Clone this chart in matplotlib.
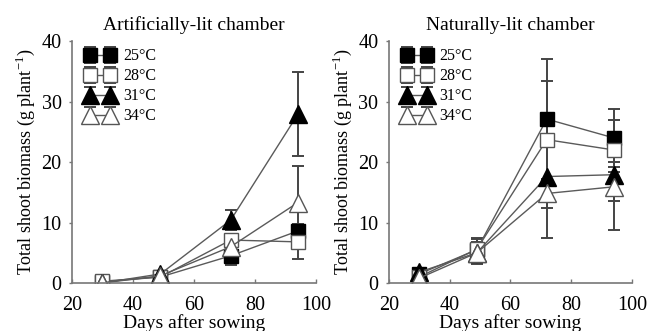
import matplotlib
matplotlib.use("Agg")
import matplotlib.pyplot as plt

plt.rcParams["font.family"] = ["Liberation Serif", "DejaVu Serif"]
plt.rcParams["mathtext.fontset"] = "custom"
plt.rcParams["mathtext.rm"] = "Liberation Serif"

days = [30, 49, 72, 94]
temps = ["25°C", "28°C", "31°C", "34°C"]

# Artificially-lit chamber
art_mean = {
    "25°C": [0.2, 1.0, 4.5, 8.6],
    "28°C": [0.3, 1.0, 7.1, 6.8],
    "31°C": [0.0, 1.5, 10.4, 27.9],
    "34°C": [0.0, 1.2, 6.0, 13.3],
}
art_err = {
    "25°C": [0.2, 0.4, 1.6, 1.2],
    "28°C": [0.2, 0.4, 1.0, 2.8],
    "31°C": [0.2, 0.5, 1.6, 6.9],
    "34°C": [0.2, 0.4, 1.0, 6.1],
}

# Naturally-lit chamber
nat_mean = {
    "25°C": [1.5, 5.5, 27.1, 24.0],
    "28°C": [1.0, 5.6, 23.7, 22.0],
    "31°C": [1.8, 5.0, 17.6, 17.9],
    "34°C": [0.8, 5.0, 14.8, 15.9],
}
nat_err = {
    "25°C": [0.4, 2.0, 9.9, 4.8],
    "28°C": [0.4, 1.6, 9.7, 2.0],
    "31°C": [0.5, 1.8, 10.1, 9.1],
    "34°C": [0.4, 1.6, 2.4, 2.4],
}

styles = {
    "25°C": dict(marker="s", mfc="black", mec="black", ms=9.5),
    "28°C": dict(marker="s", mfc="white", mec="#555555", ms=9.5),
    "31°C": dict(marker="^", mfc="black", mec="black", ms=13),
    "34°C": dict(marker="^", mfc="white", mec="#555555", ms=13),
}

fig = plt.figure(figsize=(6.48, 3.31), dpi=100)
ax1 = fig.add_axes([0.111, 0.145, 0.377, 0.731])
ax2 = fig.add_axes([0.600, 0.145, 0.375, 0.731])

panels = [
    (ax1, art_mean, art_err, "Artificially-lit chamber"),
    (ax2, nat_mean, nat_err, "Naturally-lit chamber"),
]

for ax, means, errs, title in panels:
    for t in temps:
        ax.errorbar(days, means[t], yerr=errs[t], color="#5a5a5a", lw=1.0,
                    ecolor="#444444", elinewidth=1.4, capsize=4, capthick=1.4,
                    label=t, **styles[t])
    ax.set_xlim(20, 100)
    ax.set_ylim(0, 40)
    ax.set_xticks([20, 40, 60, 80, 100])
    ax.set_yticks([0, 10, 20, 30, 40])
    ax.spines["top"].set_visible(False)
    ax.spines["right"].set_visible(False)
    for s in ("left", "bottom"):
        ax.spines[s].set_color("#777777")
        ax.spines[s].set_linewidth(1.2)
    ax.tick_params(width=1.0, color="#777777", labelsize=14.5)
    ax.tick_params(axis="y", direction="out", length=2.5, pad=5)
    ax.tick_params(axis="x", direction="in", length=3, pad=9)
    ax.set_title(title, fontsize=14, pad=8)
    ax.set_xlabel("Days after sowing", fontsize=14, labelpad=0)
    ax.set_ylabel("Total shoot biomass (g plant$^{-1}$)", fontsize=13, labelpad=3)
    ax.legend(loc="upper left", bbox_to_anchor=(0.034, 0.99), numpoints=2,
              frameon=False, fontsize=11.5, handlelength=1.85,
              handletextpad=0.52, labelspacing=0.25, borderaxespad=0.0,
              borderpad=0.3)

fig.savefig("out.png", dpi=100)
